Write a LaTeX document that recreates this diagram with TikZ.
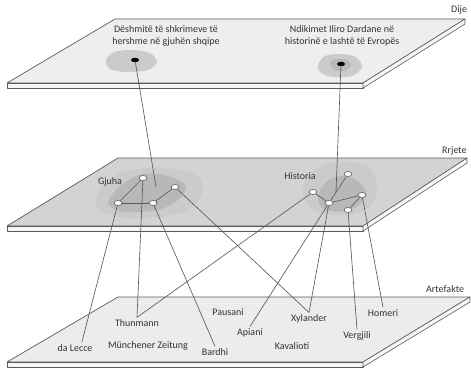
\documentclass[tikz,border=0pt]{standalone}
\usepackage{fontspec}
\setmainfont{Carlito}
\usepackage{tikz}
\usetikzlibrary{shapes.geometric}
\definecolor{edge}{HTML}{5A5A5A}
\definecolor{ink}{HTML}{333333}
\definecolor{topfill}{HTML}{EEEEEE}
\definecolor{midfill}{HTML}{D3D3D3}
\definecolor{botfill}{HTML}{ECECEC}
\definecolor{rim}{HTML}{F6F6F6}
\definecolor{fog}{HTML}{CBCBCB}
\definecolor{fogdark}{HTML}{B8B8B8}

\begin{document}
\begin{tikzpicture}[x=1pt,y=-1pt,
        plate/.style={draw=edge,line width=0.7pt,line join=round},
        rimface/.style={draw=edge,fill=rim,line width=0.6pt,line join=round},
        link/.style={draw=edge,line width=0.65pt},
        knot/.style={ellipse,draw=edge,fill=white,line width=0.6pt,
                     inner sep=0pt,minimum width=8pt,minimum height=5pt},
        spot/.style={ellipse,fill=black,inner sep=0pt,
                     minimum width=8pt,minimum height=4.5pt},
        lbl/.style={font=\fontsize{10}{12}\selectfont,text=ink,inner sep=2pt},
        layer/.style={font=\fontsize{10}{12}\selectfont,text=ink,anchor=west,inner sep=0pt}]
  \useasboundingbox (0,0) rectangle (471,369);

  % the three layers
  \foreach \t/\b/\l/\r/\c in {19/83/115/465/topfill,158/226/118/467/midfill,297/362/118/470/botfill}{
    \filldraw[plate,fill=\c] (7,\b) -- (363,\b) -- (\r,\t) -- (\l,\t) -- cycle;
    \filldraw[rimface] (7,\b) -- (363,\b) -- (363,\b+5) -- (7,\b+5) -- cycle;
    \filldraw[rimface] (363,\b) -- (\r,\t) -- (\r,\t+5) -- (363,\b+5) -- cycle;
  }
  \node[layer] (dije) at (451,10) {Dije};
  \node[layer] (rrjete) at (442,151) {Rrjete};
  \node[layer] (artefakte) at (426,289) {Artefakte};

  % shaded areas
  \fill[fog] plot[smooth cycle] coordinates {(106,60) (114,52) (132,50) (150,53) (157,62) (148,70) (126,72) (110,69)};
  \fill[fog] plot[smooth cycle] coordinates {(318,65) (325,56) (340,54) (356,57) (362,67) (352,76) (333,77) (321,73)};
  \fill[fogdark] plot[smooth cycle] coordinates {(330,63) (336,59) (347,60) (351,66) (344,71) (334,70)};
  \fill[fog] plot[smooth cycle] coordinates {(96,200) (104,184) (122,172) (150,168) (182,170) (200,178) (202,195) (188,210) (160,217) (126,218) (102,212)};
  \fill[fogdark] plot[smooth cycle] coordinates {(108,203) (120,186) (142,174) (168,176) (186,186) (178,200) (158,210) (124,212)};
  \fill[fog] plot[smooth cycle] coordinates {(302,190) (310,174) (326,164) (350,162) (370,168) (377,186) (372,204) (356,214) (330,215) (310,207)};
  \fill[fogdark] plot[smooth cycle] coordinates {(318,196) (326,182) (340,176) (356,180) (366,192) (358,206) (338,212) (322,208)};

  % knowledge layer
  \node[spot] (d1) at (135,60) {};
  \node[spot] (d2) at (341,64) {};
  \node[lbl,align=center,font=\fontsize{10}{12.5}\selectfont] (t1) at (166,36)
    {Dëshmitë të shkrimeve të\\hershme në gjuhën shqipe};
  \node[lbl,align=center,font=\fontsize{10}{12.5}\selectfont] (t2) at (342,36)
    {Ndikimet Iliro Dardane në\\historinë e lashtë të Evropës};
  \coordinate (e1) at (156,187);
  \coordinate (e2) at (336,192);
  \draw[link] (d1) -- (e1);
  \draw[link] (d2) -- (e2);

  % network layer
  \node[lbl] (gjuha) at (110,182) {Gjuha};
  \node[lbl] (historia) at (300,176) {Historia};
  \node[knot] (n1) at (143,178) {};
  \node[knot] (n2) at (175,187) {};
  \node[knot] (n3) at (118,203) {};
  \node[knot] (n4) at (153,203) {};
  \node[knot] (h1) at (348,174) {};
  \node[knot] (h2) at (313,192) {};
  \node[knot] (h3) at (329,203) {};
  \node[knot] (h4) at (362,195) {};
  \node[knot] (h5) at (348,210) {};

  % artefact layer
  \node[lbl] (dalecce) at (75,348) {da Lecce};
  \node[lbl] (thunmann) at (137,323) {Thunmann};
  \node[lbl] (munchener) at (148,346) {Münchener Zeitung};
  \node[lbl] (bardhi) at (215,352) {Bardhi};
  \node[lbl] (pausani) at (228,312) {Pausani};
  \node[lbl] (apiani) at (250,333) {Apiani};
  \node[lbl] (xylander) at (309,319) {Xylander};
  \node[lbl] (kavalioti) at (292,346) {Kavalioti};
  \node[lbl] (vergjili) at (357,336) {Vergjili};
  \node[lbl] (homeri) at (383,313) {Homeri};

  % links inside the clusters
  \draw[link] (n1) -- (n3);
  \draw[link] (n3) -- (n4);
  \draw[link] (n4) -- (n2);
  \draw[link] (h2) -- (h3);
  \draw[link] (h3) -- (h1);
  \draw[link] (h3) -- (h4);
  \draw[link] (h4) -- (h5);

  % links down to the artefacts
  \draw[link] (n3) -- (dalecce.40);
  \draw[link] (n1) -- (thunmann.north);
  \draw[link] (n4) -- (bardhi.north);
  \draw[link] (n2) -- (xylander.north);
  \draw[link] (h2) -- (thunmann.north);
  \draw[link] (h3) -- (apiani.north);
  \draw[link] (h3) -- (xylander.north);
  \draw[link] (h5) -- (vergjili.north);
  \draw[link] (h4) -- (homeri.north);
\end{tikzpicture}
\end{document}
